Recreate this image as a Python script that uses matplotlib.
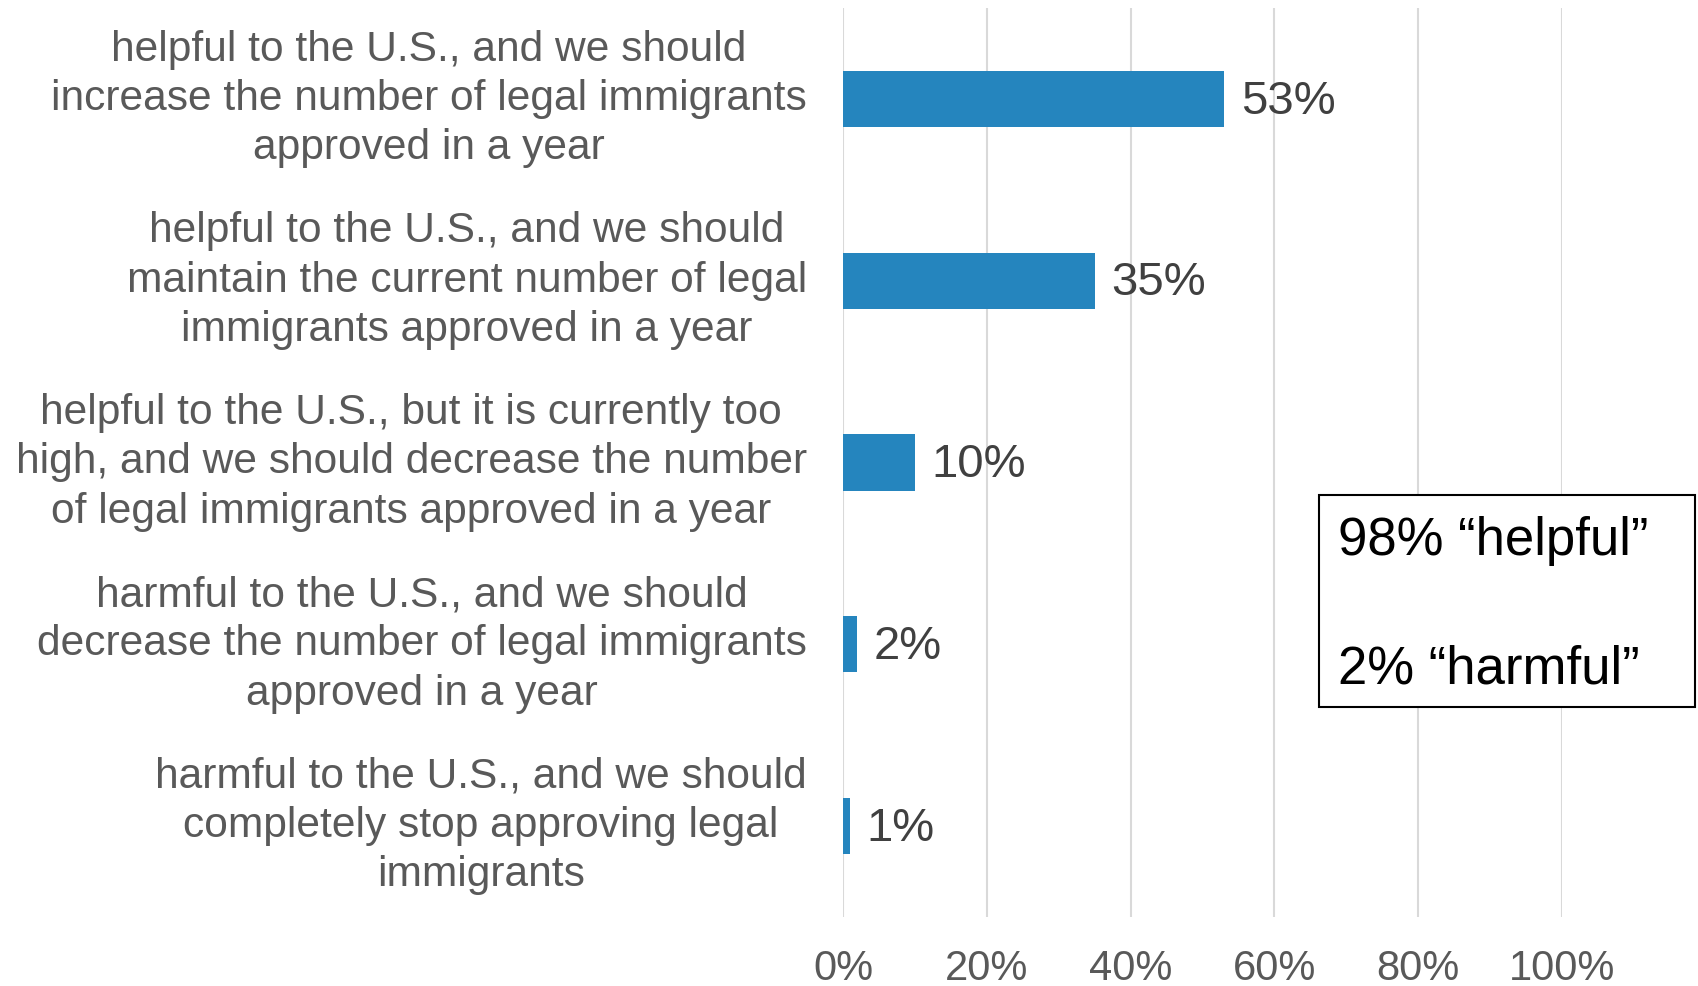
import matplotlib
matplotlib.use("Agg")
import matplotlib.pyplot as plt
from matplotlib.ticker import FixedLocator

plt.rcParams['font.family'] = ['Liberation Sans', 'DejaVu Sans']

categories = [
    "helpful to the U.S., and we should\nincrease the number of legal immigrants\napproved in a year",
    "helpful to the U.S., and we should\nmaintain the current number of legal\nimmigrants approved in a year",
    "helpful to the U.S., but it is currently too\nhigh, and we should decrease the number\nof legal immigrants approved in a year",
    "harmful to the U.S., and we should\ndecrease the number of legal immigrants\napproved in a year",
    "harmful to the U.S., and we should\ncompletely stop approving legal\nimmigrants",
]
values = [53, 35, 10, 2, 1]
xticks = [0, 20, 40, 60, 80, 100]
xtick_labels = ["0%", "20%", "40%", "60%", "80%", "100%"]
summary_lines = ["98% \u201chelpful\u201d", "2% \u201charmful\u201d"]

W, H = 1698, 986
fig = plt.figure(figsize=(W / 100, H / 100), dpi=100)
ax = fig.add_axes([843 / W, 1 - 917 / H, (1562 - 843) / W, (917 - 8) / H])

ypos = list(range(len(categories)))
ax.barh(ypos, values, height=0.31, color="#2585BE", zorder=3)
ax.set_ylim(len(categories) - 0.5, -0.5)
ax.set_xlim(0, 100)

for y, v in zip(ypos, values):
    ax.annotate(f"{v}%", (v, y), xytext=(12, -2), textcoords="offset points",
                ha="left", va="center", fontsize=34, color="#404040")

ax.set_yticks(ypos)
ax.set_yticklabels(categories, fontsize=30.6, color="#595959", ha="right",
                   multialignment="center", linespacing=1.3, va="center")
ax.tick_params(axis="y", length=0, pad=26)

ax.xaxis.set_major_locator(FixedLocator(xticks))
ax.set_xticklabels(xtick_labels, fontsize=30, color="#595959")
ax.tick_params(axis="x", length=0, pad=23)
ax.grid(axis="x", color="#D9D9D9", linewidth=1.5, zorder=0)
ax.grid(axis="y", visible=False)
for s in ax.spines.values():
    s.set_visible(False)

# summary box
bx0, by0, bx1, by1 = 1319, 495, 1695, 707
rect = plt.Rectangle((bx0 / W, 1 - by1 / H), (bx1 - bx0) / W, (by1 - by0) / H,
                     transform=fig.transFigure, facecolor="white",
                     edgecolor="black", linewidth=1.5, zorder=5)
fig.patches.append(rect)
for ty, line in zip([541, 669], summary_lines):
    fig.text(1338 / W, 1 - ty / H, line, fontsize=38, color="black",
             ha="left", va="center", zorder=6)

fig.savefig("out.png", dpi=100, facecolor="white")
